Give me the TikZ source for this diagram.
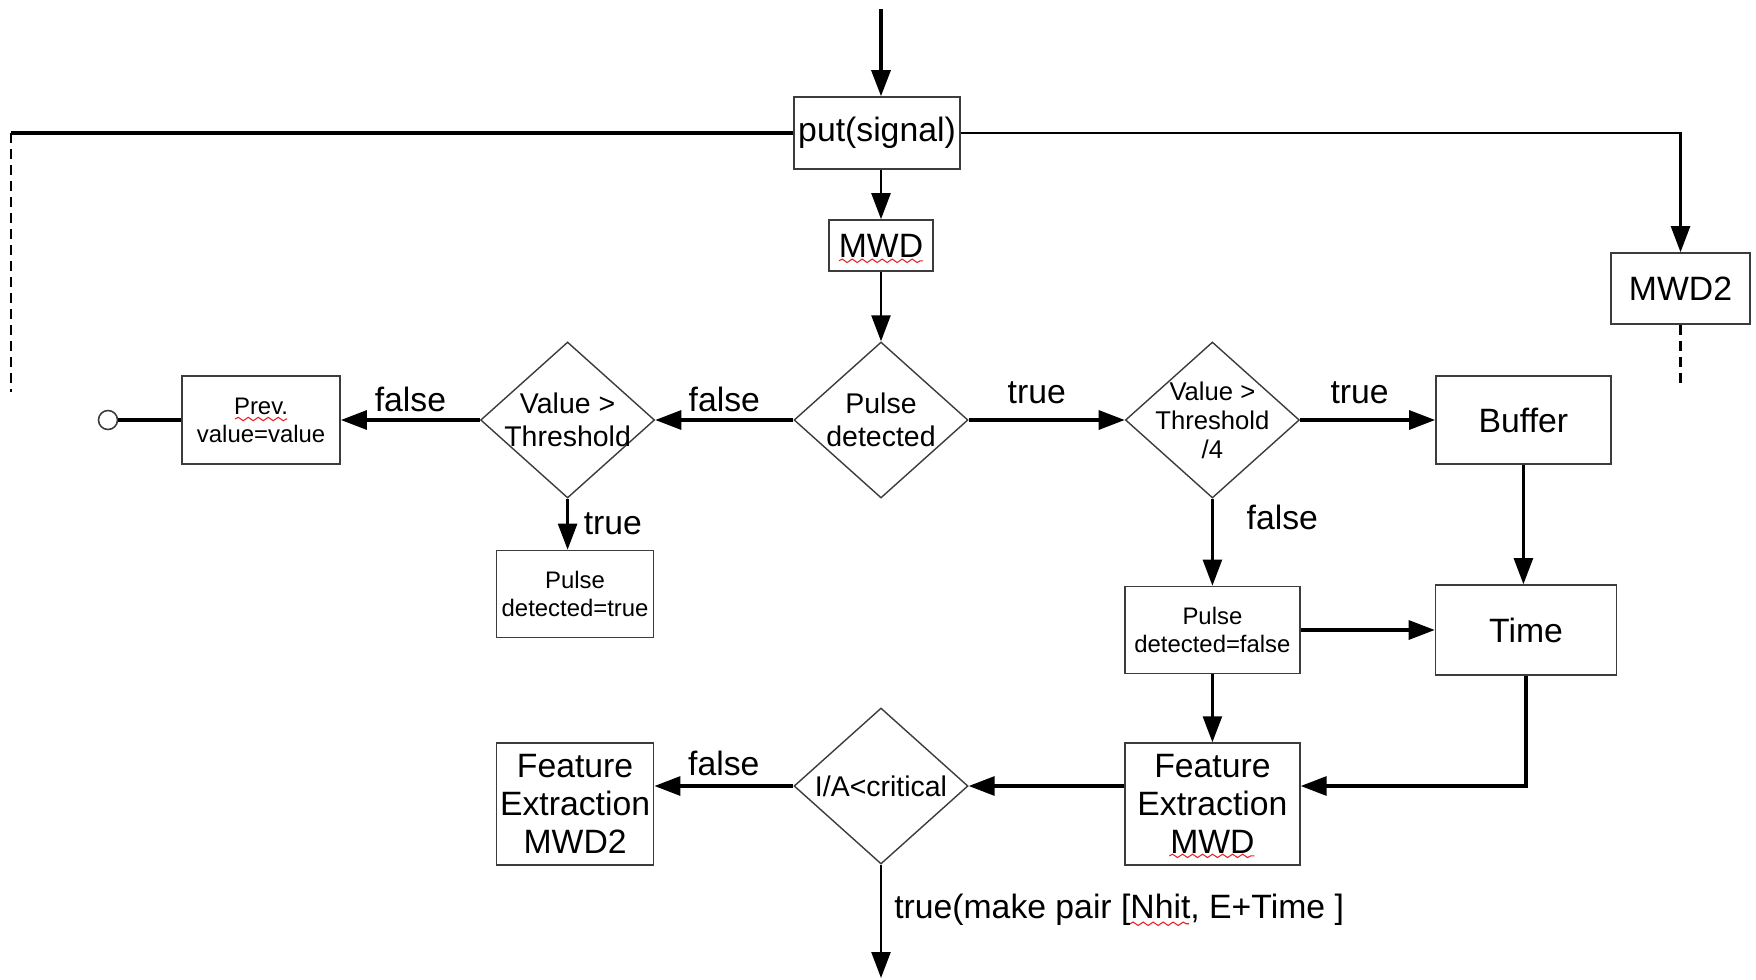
\documentclass[tikz,border=0pt]{standalone}
\usepackage{fontspec}
\setmainfont{Liberation Sans}
\usepackage{tikz}
\usetikzlibrary{arrows.meta, positioning, shapes.geometric, calc, decorations.pathmorphing}
\usepackage{xcolor}
\definecolor{ink}{HTML}{000000}
\definecolor{edge}{HTML}{3C3C3C}
\definecolor{spellred}{HTML}{E8202A}
\newcommand{\fbig}{\fontsize{9.6pt}{10.8pt}\selectfont}
\newcommand{\fmid}{\fontsize{8.1pt}{9.3pt}\selectfont}
\newcommand{\fsml}{\fontsize{7.3pt}{8.3pt}\selectfont}
\newcommand{\ftiny}{\fontsize{6.8pt}{8pt}\selectfont}
\tikzset{
  n/.style={draw=edge, line width=0.45pt, align=center, inner sep=1pt, fill=white, text=ink},
  nb/.style={n, font=\fbig},
  ns/.style={n, font=\ftiny},
  dm/.style={draw=edge, line width=0.4pt, diamond, inner sep=0pt, minimum width=17.4mm, minimum height=15.6mm},
  dt/.style={align=center, inner sep=0pt, text=ink},
  a/.style={-{Triangle[length=2.6mm, width=1.9mm]}, draw=ink, line width=0.9pt},
  af/.style={a, line width=0.7pt},
  ln/.style={draw=ink, line width=0.9pt},
  dl/.style={draw=ink, line width=0.6pt, dash pattern=on 1mm off 0.6mm},
  lbl/.style={font=\fbig, midway, inner sep=2pt, text=ink},
  wavy/.style={draw=spellred, line width=0.3pt, decorate, decoration={snake, amplitude=0.17mm, segment length=1mm}},
}

\begin{document}
\begin{tikzpicture}[x=1mm, y=1mm]
\useasboundingbox (0,0) rectangle (175.6,-97.9);
\node[dm, label={[dt, font=\fmid]center:Pulse\\detected}] (pd) at (88.1,-42.0) {};
\node[nb, minimum width=10.4mm, minimum height=5.1mm] (mwd) at (88.1,-24.55) {MWD};
\node[nb, minimum width=16.6mm, minimum height=7.2mm, inner sep=0.5pt] (put) at (87.7,-13.3) {put(signal)};
\node[nb, minimum width=13.9mm, minimum height=7.1mm] (mwd2) at (168.05,-28.85) {MWD2};
\node[dm, left=13.8mm of pd, label={[dt, font=\fmid]center:Value >\\Threshold}] (vt) {};
\node[ns, minimum width=15.8mm, minimum height=8.8mm, left=13.9mm of vt] (prev) {Prev.\\value=value};
\node[circle, draw=edge, line width=0.45pt, fill=white, minimum size=1.9mm, inner sep=0pt] (stop) at (10.8,-42.0) {};
\node[ns, minimum width=15.7mm, minimum height=8.7mm, below=5.1mm of vt, xshift=0.75mm] (pdt) {Pulse\\detected=true};
\node[dm, right=15.6mm of pd, label={[dt, font=\fsml]center:Value >\\Threshold\\/4}] (vt4) {};
\node[nb, minimum width=17.5mm, minimum height=8.8mm, right=13.5mm of vt4] (buf) {Buffer};
\node[ns, minimum width=17.5mm, minimum height=8.7mm, below=8.7mm of vt4] (pdf) {Pulse\\detected=false};
\node[nb, minimum width=18.1mm, minimum height=9.0mm, right=13.4mm of pdf] (time) {Time};
\node[nb, minimum width=17.5mm, minimum height=12.2mm, below=6.8mm of pdf] (femwd) {Feature\\Extraction\\MWD};
\node[dm, label={[dt, font=\fmid]center:I/A<critical}] (ia) at (88.1,-78.6) {};
\node[nb, minimum width=15.7mm, minimum height=12.2mm] (fe2) at (pdt |- femwd) {Feature\\Extraction\\MWD2};
\coordinate (in) at (88.1,-0.9);
\coordinate (out) at (88.1,-97.8);
\coordinate (le) at (1.1,-39.2);
\coordinate (re) at (168.05,-38.6);

% input and split
\draw[a] (in) -- (put.north -| in);
\draw[af] (put.south -| mwd) -- (mwd);
\draw[af] (mwd) -- (pd);
\draw[ln] (put.west) -- (put.west -| le);
\draw[dl] (put.west -| le) -- (le);
\draw[af] (put.east) -| (mwd2);
\draw[dl] (mwd2) -- (re);

% left branch
\draw[a] (pd) -- node[lbl, above] {false} (vt);
\draw[a] (vt) -- node[lbl, above] {false} (prev);
\draw[ln] (prev) -- (stop);
\draw[af] (vt.south) -- node[lbl, right, xshift=0.8mm] {true} (vt.south |- pdt.north);

% right branch
\draw[a] (pd) -- node[lbl, above, yshift=0.8mm, xshift=-1mm] {true} (vt4);
\draw[a] (vt4) -- node[lbl, above, yshift=0.8mm, xshift=-0.8mm] {true} (buf);
\draw[af] (vt4) -- node[lbl, right, pos=0.22, xshift=2.6mm] {false} (pdf);
\draw[af] (buf) -- (buf |- time.north);
\draw[a] (pdf) -- (time);
\draw[af] (pdf) -- (femwd);
\draw[a] (time.south) |- (femwd.east |- ia);

% feature extraction
\draw[a] (femwd.west |- ia) -- (ia);
\draw[a] (ia) -- node[lbl, above, yshift=0.2mm] {false} (fe2.east |- ia);
\draw[af] (ia) -- node[lbl, right, pos=0.4, xshift=0.5mm] (pair) {true(make pair [Nhit, E+Time ]} (out);

% spell-check marks
\draw[wavy] ($(mwd.south)+(-4.2,1.1)$) -- ($(mwd.south)+(4.2,1.1)$);
\draw[wavy] ($(prev.center)+(-2.6,0.1)$) -- ($(prev.center)+(2.6,0.1)$);
\draw[wavy] ($(femwd.south)+(-4.3,1.0)$) -- ($(femwd.south)+(4.2,1.0)$);
\draw[wavy] ($(pair.base west)+(24.4,-0.5)$) -- ($(pair.base west)+(30.3,-0.5)$);
\end{tikzpicture}
\end{document}
